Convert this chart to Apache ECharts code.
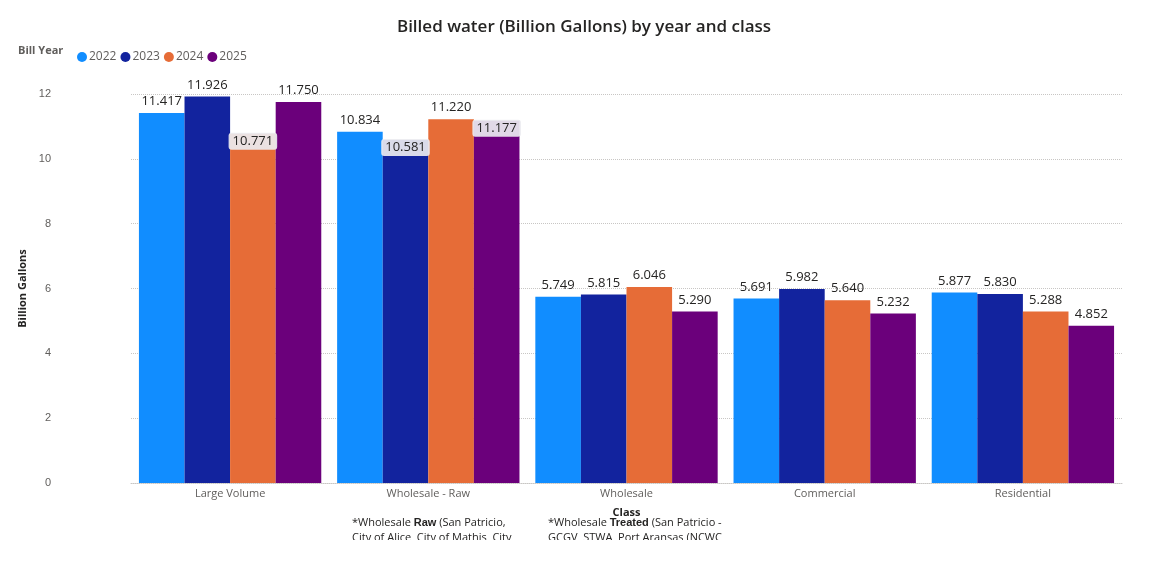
<!DOCTYPE html><html><head><meta charset="utf-8"><script src="https://cdn.jsdelivr.net/npm/echarts@6/dist/echarts.min.js"></script>
<style>html,body{margin:0;background:#fff}#c{width:1168px;height:584px}</style></head><body><div id="c"></div><script>
const categories=["Large Volume","Wholesale - Raw","Wholesale","Commercial","Residential"];
const years=["2022","2023","2024","2025"];
const v2022=[11.417,10.834,5.749,5.691,5.877];
const v2023=[11.926,10.581,5.815,5.982,5.830];
const v2024=[10.771,11.220,6.046,5.640,5.288];
const v2025=[11.750,11.177,5.290,5.232,4.852];
const colors=["#118DFF","#12239E","#E66C37","#6B007B"];
const insideLabels={"2024":[0],"2023":[1],"2025":[1]};
const vals=[v2022,v2023,v2024,v2025];
const series=years.map((y,i)=>({name:y,type:'bar',barGap:'0%',barCategoryGap:'8%',
 itemStyle:{color:colors[i]},
 label:{show:true,position:'top',color:'#252423',fontSize:13,fontFamily:'Open Sans',formatter:p=>p.value.toFixed(3)},
 data:vals[i].map((v,j)=>(insideLabels[y]||[]).includes(j)?{value:v,label:{position:'insideTop',offset:[0,-6],backgroundColor:'rgba(235,235,240,0.92)',borderRadius:3,padding:[2,4]}}:v)}));
const chart=echarts.init(document.getElementById('c'));
chart.setOption({animation:false,
 title:{text:'Billed water (Billion Gallons) by year and class',left:'center',top:14,textStyle:{fontFamily:'Open Sans',fontSize:17,fontWeight:600,color:'#252423'}},
 legend:{left:72,top:46,icon:'circle',itemWidth:10,itemHeight:10,itemGap:4,textStyle:{fontSize:12,color:'#605E5C',fontFamily:'Open Sans',padding:[0,0,0,-3]},data:years},
 graphic:[
  {type:'text',left:18,top:45,style:{text:'Bill Year',font:'bold 11px "Open Sans"',fill:'#605E5C'}},
  {type:'text',left:352,top:515,style:{text:'*Wholesale {b|Raw} (San Patricio,\nCity of Alice  City of Mathis  City',font:'11px "Open Sans"',fill:'#252423',lineHeight:15,rich:{b:{fontWeight:'bold',fontSize:11,fill:'#252423'}}}},
  {type:'text',left:548,top:515,style:{text:'*Wholesale {b|Treated} (San Patricio -\nGCGV  STWA  Port Aransas (NCWC',font:'11px "Open Sans"',fill:'#252423',lineHeight:15,rich:{b:{fontWeight:'bold',fontSize:11,fill:'#252423'}}}},
  {type:'rect',shape:{x:0,y:540,width:1168,height:44},style:{fill:'#fff'}}
 ],
 grid:{left:131,right:46,top:94,bottom:101},
 xAxis:{type:'category',data:categories,name:'Class',nameLocation:'middle',nameGap:24,nameTextStyle:{fontWeight:'bold',fontSize:11,color:'#252423',fontFamily:'Open Sans'},
  axisTick:{show:false},axisLine:{lineStyle:{color:'#C8C6C4',type:'dotted'}},axisLabel:{fontSize:11,color:'#605E5C',fontFamily:'Open Sans',margin:5}},
 yAxis:{type:'value',min:0,max:12,interval:2,name:'Billion Gallons',nameLocation:'middle',nameGap:103,nameTextStyle:{fontWeight:'bold',fontSize:11,color:'#252423',fontFamily:'Open Sans'},
  axisLabel:{fontSize:11,color:'#605E5C',margin:80},splitLine:{lineStyle:{color:'#C8C6C4',type:'dotted'}}},
 series});
</script></body></html>
